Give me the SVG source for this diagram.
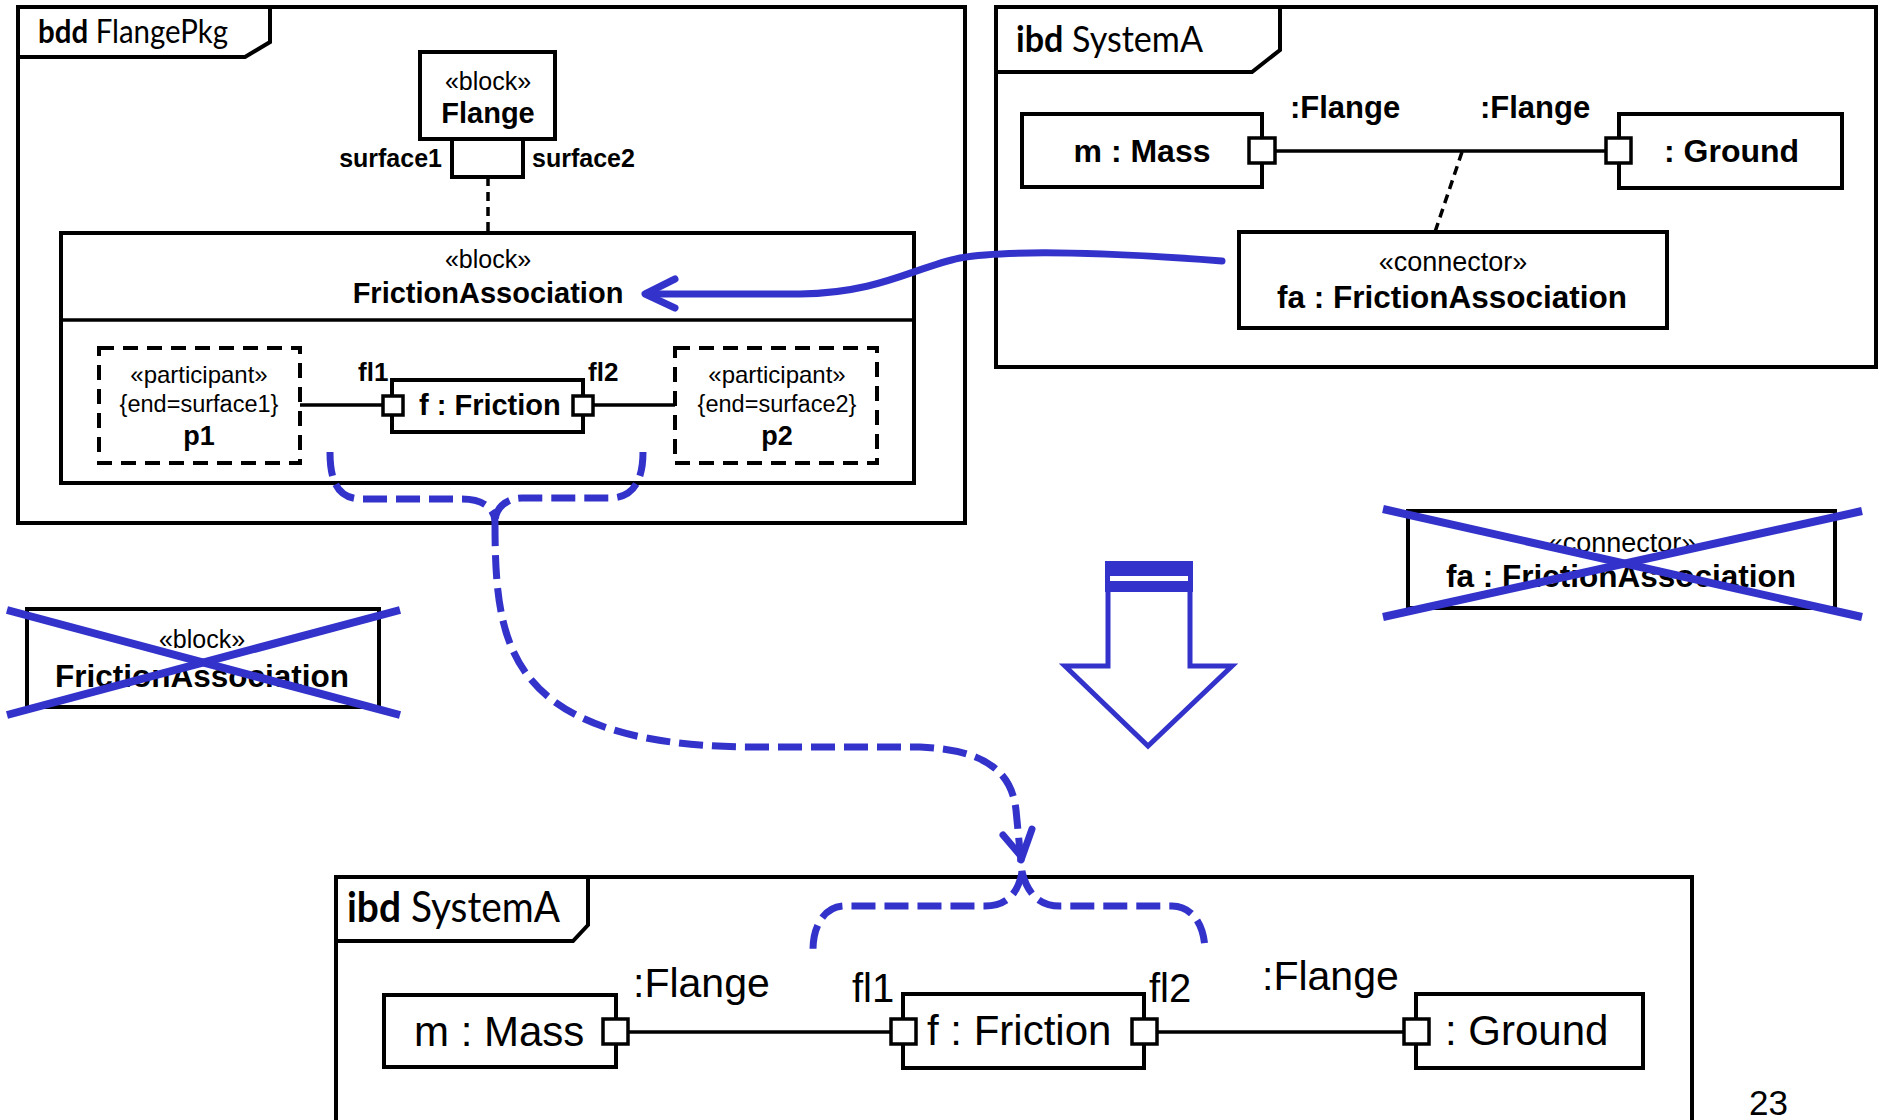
<svg xmlns="http://www.w3.org/2000/svg" width="1878" height="1120" viewBox="0 0 1878 1120">
<defs>
<style>
.frame{fill:none;stroke:#000;stroke-width:4}
.box{fill:#fff;stroke:#000;stroke-width:4}
.port{fill:#fff;stroke:#000;stroke-width:3.5}
.dbox{fill:none;stroke:#000;stroke-width:4;stroke-dasharray:15 9}
.line{fill:none;stroke:#000;stroke-width:3.5}
.dline{fill:none;stroke:#000;stroke-width:3.5;stroke-dasharray:9 6}
.blue{fill:none;stroke:#3333CC;stroke-width:7;stroke-linecap:round;stroke-linejoin:round}
.bdash{fill:none;stroke:#3333CC;stroke-width:7;stroke-dasharray:24 9}
.cross{stroke:#3333CC;stroke-width:8}
.hdr{font-family:Lato,"Open Sans","Liberation Sans",sans-serif;fill:#000}
.t{font-family:"Liberation Sans",Arial,sans-serif;fill:#000}
.b{font-weight:bold}
.m{text-anchor:middle}
</style>
</defs>

<!-- bdd FlangePkg frame -->
<g id="bdd-frame">
<rect class="frame" x="18" y="7" width="947" height="516"/>
<path class="frame" d="M18,57 H245 L270,42 V7"/>
<text class="hdr" x="38" y="43" font-size="32" textLength="190" lengthAdjust="spacingAndGlyphs"><tspan font-weight="bold">bdd</tspan> FlangePkg</text>
</g>

<g id="flange">
<rect class="box" x="420" y="52" width="135" height="87"/>
<text class="t m" x="488" y="90" font-size="25">«block»</text>
<text class="t m b" x="488" y="123" font-size="29">Flange</text>
<rect class="box" x="452" y="139" width="71" height="38"/>
<text class="t b" x="442" y="167" font-size="25" text-anchor="end">surface1</text>
<text class="t b" x="532" y="167" font-size="25">surface2</text>
</g>

<g id="friction-association">
<rect class="box" x="61" y="233" width="853" height="250"/>
<line class="line" x1="61" y1="320" x2="914" y2="320" stroke-width="4"/>
<text class="t m" x="488" y="268" font-size="25">«block»</text>
<text class="t m b" x="488" y="303" font-size="29">FrictionAssociation</text>
</g>

<g id="p1">
<rect class="dbox" x="99" y="348" width="201" height="115"/>
<text class="t m" x="199" y="383" font-size="24">«participant»</text>
<text class="t m" x="199" y="412" font-size="23.5">{end=surface1}</text>
<text class="t m b" x="199" y="445" font-size="27">p1</text>
</g>

<g id="p2">
<rect class="dbox" x="675" y="348" width="202" height="115"/>
<text class="t m" x="777" y="383" font-size="24">«participant»</text>
<text class="t m" x="777" y="412" font-size="23.5">{end=surface2}</text>
<text class="t m b" x="777" y="445" font-size="27">p2</text>
</g>

<g id="f-friction">
<rect class="box" x="392" y="380" width="191" height="52"/>
<rect class="port" x="383" y="396" width="20" height="19"/>
<rect class="port" x="573" y="396" width="20" height="19"/>
<text class="t b" x="419" y="415" font-size="29">f : Friction</text>
<text class="t b" x="358" y="381" font-size="26">fl1</text>
<text class="t b" x="588" y="381" font-size="26">fl2</text>
</g>

<!-- ibd SystemA (top) -->
<g id="ibd-top-frame">
<rect class="frame" x="996" y="7" width="880" height="360"/>
<path class="frame" d="M996,72 H1252 L1280,50 V7"/>
<text class="hdr" x="1016" y="52" font-size="37" textLength="187" lengthAdjust="spacingAndGlyphs"><tspan font-weight="bold">ibd</tspan> SystemA</text>
</g>

<g id="top-mass">
<rect class="box" x="1022" y="114" width="240" height="73"/>
<rect class="port" x="1249" y="138" width="26" height="25"/>
<text class="t m b" x="1142" y="162" font-size="32">m : Mass</text>
</g>

<g id="top-ground">
<rect class="box" x="1619" y="114" width="223" height="74"/>
<rect class="port" x="1606" y="138" width="25" height="25"/>
<text class="t b" x="1664" y="162" font-size="32">: Ground</text>
</g>

<g id="top-fa">
<rect class="box" x="1239" y="232" width="428" height="96"/>
<text class="t m" x="1453" y="271" font-size="27">«connector»</text>
<text class="t m b" x="1452" y="308" font-size="31.5">fa : FrictionAssociation</text>
</g>

<!-- crossed-out items -->
<g id="crossed-block">
<rect class="box" x="27" y="609" width="352" height="98"/>
<text class="t m" x="202" y="648" font-size="25">«block»</text>
<text class="t m b" x="202" y="687" font-size="31.5">FrictionAssociation</text>
<line class="cross" x1="7" y1="610" x2="400" y2="715"/>
<line class="cross" x1="7" y1="715" x2="400" y2="610"/>
</g>

<g id="crossed-connector">
<rect class="box" x="1408" y="511" width="427" height="97"/>
<text class="t m" x="1622" y="552" font-size="27">«connector»</text>
<text class="t m b" x="1621" y="587" font-size="31.5">fa : FrictionAssociation</text>
<line class="cross" x1="1383" y1="509" x2="1862" y2="617"/>
<line class="cross" x1="1383" y1="617" x2="1862" y2="511"/>
</g>

<g id="down-arrow">
<path d="M1108,590 V666 H1065 L1148,746 L1232,666 H1190 V590" fill="none" stroke="#3333CC" stroke-width="5"/>
<rect x="1105" y="561" width="88" height="31" fill="#3333CC"/>
<rect x="1110" y="576" width="78" height="5" fill="#fff"/>
</g>

<!-- ibd SystemA (bottom) -->
<g id="ibd-bottom-frame">
<rect class="frame" x="336" y="877" width="1356" height="300"/>
<path class="frame" d="M336,941 H573 L588,925 V877"/>
<text class="hdr" x="347" y="922" font-size="42" textLength="213" lengthAdjust="spacingAndGlyphs"><tspan font-weight="bold">ibd</tspan> SystemA</text>
</g>

<g id="bottom-mass">
<rect class="box" x="384" y="995" width="232" height="72"/>
<rect class="port" x="603" y="1019" width="25" height="25"/>
<text class="t" x="414" y="1046" font-size="42">m : Mass</text>
</g>

<g id="bottom-friction">
<rect class="box" x="903" y="994" width="241" height="74"/>
<rect class="port" x="891" y="1019" width="25" height="25"/>
<rect class="port" x="1132" y="1019" width="25" height="25"/>
<text class="t" x="927" y="1045" font-size="42">f : Friction</text>
</g>

<g id="bottom-ground">
<rect class="box" x="1416" y="994" width="227" height="74"/>
<rect class="port" x="1404" y="1019" width="25" height="25"/>
<text class="t" x="1445" y="1045" font-size="42">: Ground</text>
</g>

<g id="connectors">
<line class="dline" x1="488" y1="177" x2="488" y2="233"/>
<line class="line" x1="300" y1="405" x2="383" y2="405"/>
<line class="line" x1="593" y1="405" x2="675" y2="405"/>
<line class="line" x1="1275" y1="151" x2="1606" y2="151"/>
<line class="dline" x1="1462" y1="152" x2="1435" y2="232" stroke-dasharray="10 6"/>
<text class="t b" x="1290" y="118" font-size="31">:Flange</text>
<text class="t b" x="1480" y="118" font-size="31">:Flange</text>
<line class="line" x1="628" y1="1032" x2="891" y2="1032"/>
<line class="line" x1="1157" y1="1032" x2="1404" y2="1032"/>
<text class="t" x="633" y="997" font-size="41">:Flange</text>
<text class="t" x="1262" y="990" font-size="41">:Flange</text>
<text class="t" x="852" y="1002" font-size="40">fl1</text>
<text class="t" x="1149" y="1002" font-size="40">fl2</text>

<!-- blue solid arrow -->
<path class="blue" d="M1222,261 C1120,253 1010,249 960,258 C915,267 880,293 800,294 L647,294"/>
<path class="blue" d="M675,279 L645,294 L675,308"/>

<!-- blue dashed mapping -->
<path class="bdash" d="M330,452 C330,485 340,499 362,499 L462,499 C485,499 495,510 495,522"/>
<path class="bdash" d="M643,452 C643,485 630,498 610,498 L522,498 C505,498 495,510 495,522"/>
<path class="bdash" d="M495,522 C495,600 500,662 555,702 C605,738 680,747 760,747 L920,747 C990,750 1012,775 1016,810 L1022,872"/>
<path class="blue" d="M1003,835 L1020,855 M1032,829 L1021,860"/>
<path class="bdash" d="M1022,872 C1018,895 1005,906 985,906 L845,906 C825,906 813,925 813,950"/>
<path class="bdash" d="M1022,872 C1028,895 1040,906 1060,906 L1172,906 C1192,906 1205,925 1205,952"/>
</g>

<text class="t" x="1749" y="1115" font-size="35">23</text>
</svg>
